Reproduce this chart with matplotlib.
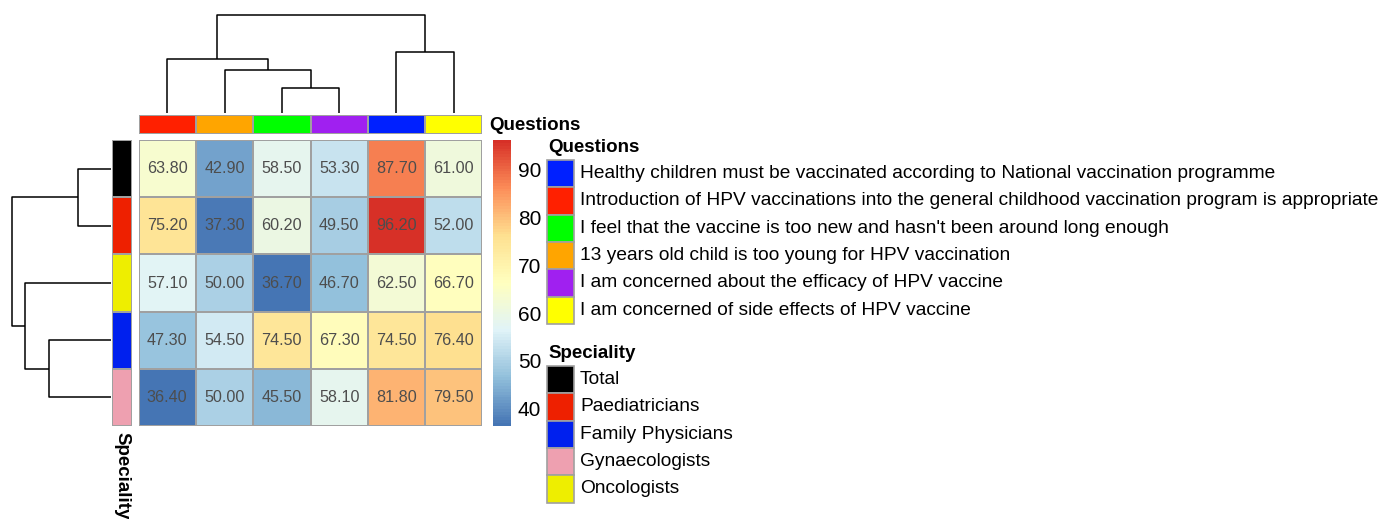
import numpy as np
import matplotlib
matplotlib.use('Agg')
import matplotlib.pyplot as plt
from matplotlib.colors import LinearSegmentedColormap, ListedColormap
from matplotlib.patches import Rectangle

plt.rcParams['font.family'] = ['Liberation Sans', 'DejaVu Sans']

# data (rows = speciality, cols = question)
specialities = ['Total', 'Paediatricians', 'Family Physicians', 'Gynaecologists', 'Oncologists']
spec_colors = ['#000000', '#EE2000', '#0020EE', '#EEA0B0', '#EEEE00']

questions = ['Healthy children must be vaccinated according to National vaccination programme',
             'Introduction of HPV vaccinations into the general childhood vaccination program is appropriate',
             "I feel that the vaccine is too new and hasn't been around long enough",
             '13 years old child is too young for HPV vaccination',
             'I am concerned about the efficacy of HPV vaccine',
             'I am concerned of side effects of HPV vaccine']
quest_colors = ['#0020FF', '#FF2000', '#00FF00', '#FFA500', '#A020F0', '#FFFF00']

# percentages, same order as questions
total    = [87.7, 63.8, 58.5, 42.9, 53.3, 61.0]
paed     = [96.2, 75.2, 60.2, 37.3, 49.5, 52.0]
famphys  = [74.5, 47.3, 74.5, 54.5, 67.3, 76.4]
gynaec   = [81.8, 36.4, 45.5, 50.0, 58.1, 79.5]
oncol    = [62.5, 57.1, 36.7, 50.0, 46.7, 66.7]

# display order from the clustering (indices into lists above)
row_order = [0, 1, 4, 2, 3]
col_order = [1, 3, 2, 4, 0, 5]

M = np.array([total, paed, famphys, gynaec, oncol])


def complete_linkage(X):
    D = np.sqrt(((X[:, None, :] - X[None, :, :])**2).sum(-1))
    clusters = {i: [i] for i in range(len(X))}
    merges = []
    nid = len(X)
    while len(clusters) > 1:
        keys = list(clusters)
        best = None
        for i in range(len(keys)):
            for j in range(i+1, len(keys)):
                h = D[np.ix_(clusters[keys[i]], clusters[keys[j]])].max()
                if best is None or h < best[2]:
                    best = (keys[i], keys[j], h)
        a, b, h = best
        merges.append((a, b, h))
        clusters[nid] = clusters.pop(a) + clusters.pop(b)
        nid += 1
    return merges


def draw_dendro(ax, merges, order, horizontal=False):
    pos = {leaf: k + 0.5 for k, leaf in enumerate(order)}
    hgt = {leaf: 0.0 for leaf in order}
    nid = len(order)
    for a, b, h in merges:
        xs = [pos[a], pos[a], pos[b], pos[b]]
        ys = [hgt[a], h, h, hgt[b]]
        if horizontal:
            ax.plot(ys, xs, color='black', lw=1.1, clip_on=False, solid_capstyle='butt')
        else:
            ax.plot(xs, ys, color='black', lw=1.1, clip_on=False, solid_capstyle='butt')
        pos[nid] = (pos[a] + pos[b]) / 2
        hgt[nid] = h
        nid += 1
    return merges[-1][2]


W, H = 1397, 519
fig = plt.figure(figsize=(W/100, H/100), dpi=100)


def box(x0, y0, x1, y1):
    return [x0/W, 1 - y1/H, (x1-x0)/W, (y1-y0)/H]


colors7 = ['#4575B4', '#91BFDB', '#E0F3F8', '#FFFFBF', '#FEE090', '#FC8D59', '#D73027']
cmap = LinearSegmentedColormap.from_list('rdylbu', colors7, N=100)
data = M[row_order][:, col_order]
vmin, vmax = data.min(), data.max()

# heatmap
ax = fig.add_axes(box(138.5, 140, 482.5, 426))
ax.pcolormesh(data, cmap=cmap, vmin=vmin, vmax=vmax, edgecolors='#A0A0A0', linewidth=1.3)
ax.set_xlim(0, 6)
ax.set_ylim(5, 0)
ax.axis('off')
for i in range(data.shape[0]):
    for j in range(data.shape[1]):
        ax.text(j + 0.5, i + 0.5, '%.2f' % data[i, j], ha='center', va='center',
                fontsize=11.6, color='#4D4D4D')

# column annotation
axc = fig.add_axes(box(138.5, 115, 482.5, 134))
axc.pcolormesh(np.arange(6)[None, :], cmap=ListedColormap([quest_colors[k] for k in col_order]),
               edgecolors='#A0A0A0', linewidth=1.3)
axc.set_xlim(0, 6)
axc.axis('off')
fig.text(489/W, 1 - 126/H, 'Questions', fontsize=13.5, fontweight='bold', ha='left', va='center')

# row annotation
axr = fig.add_axes(box(112, 140, 132, 426))
axr.pcolormesh(np.arange(5)[:, None], cmap=ListedColormap([spec_colors[k] for k in row_order]),
               edgecolors='#A0A0A0', linewidth=1.3)
axr.set_ylim(5, 0)
axr.axis('off')
fig.text(122/W, 1 - 432/H, 'Speciality', fontsize=13.5, fontweight='bold', rotation=270,
         ha='center', va='top')

# column dendrogram
axt = fig.add_axes(box(138.5, 15, 482.5, 113))
top = draw_dendro(axt, complete_linkage(M.T), col_order)
axt.set_xlim(0, 6)
axt.set_ylim(0, top)
axt.axis('off')

# row dendrogram
axl = fig.add_axes(box(12, 140, 111, 426))
top = draw_dendro(axl, complete_linkage(M), row_order, horizontal=True)
axl.set_xlim(top, 0)
axl.set_ylim(5, 0)
axl.axis('off')

# colour scale
cax = fig.add_axes(box(493, 140, 511, 426))
sm = plt.cm.ScalarMappable(cmap=cmap, norm=plt.Normalize(vmin, vmax))
cb = fig.colorbar(sm, cax=cax, ticks=[40, 50, 60, 70, 80, 90])
cb.outline.set_visible(False)
cax.tick_params(length=0, labelsize=15, pad=5)

# legends
ov = fig.add_axes([0, 0, 1, 1])
ov.set_xlim(0, W)
ov.set_ylim(H, 0)
ov.axis('off')

step = 27.3
ov.text(548, 147, 'Questions', fontsize=13.5, fontweight='bold', va='center')
for k, (lab, c) in enumerate(zip(questions, quest_colors)):
    y = 160 + k*step
    ov.add_patch(Rectangle((547, y), 27, step, facecolor=c, edgecolor='#A0A0A0', lw=1.2))
    ov.text(580, y + step/2, lab, fontsize=13.8, va='center')

ov.text(548, 353, 'Speciality', fontsize=13.5, fontweight='bold', va='center')
for k, (lab, c) in enumerate(zip(specialities, spec_colors)):
    y = 366 + k*step
    ov.add_patch(Rectangle((547, y), 27, step, facecolor=c, edgecolor='#A0A0A0', lw=1.2))
    ov.text(580, y + step/2, lab, fontsize=13.8, va='center')

fig.savefig('out.png', dpi=100)
